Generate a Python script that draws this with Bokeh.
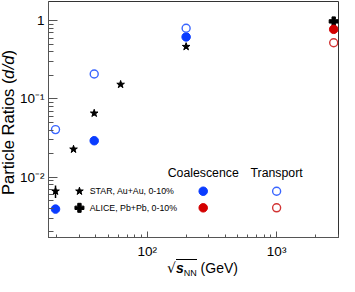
import numpy as np
from bokeh.plotting import figure
from bokeh.models import (FixedTicker, CustomJSTickFormatter, Label, Range1d, Div)
from bokeh.layouts import row, column
from bokeh.embed import file_html
from bokeh.resources import INLINE

# ---- data ----
star_x = [19.6, 27, 39, 62.4, 200]
star_y = [0.0066, 0.0227, 0.0655, 0.153, 0.466]
star_err = [0.0012, 0.0012, 0.004, 0.008, 0.02]
alice_x = [2760]
alice_y = [0.98]
alice_err = [0.04]
rhic_x = [19.6, 39, 200]
coal_rhic = [0.0039, 0.0292, 0.62]
trans_rhic = [0.0405, 0.208, 0.80]
lhc_x = [2760]
coal_lhc = [0.776]
trans_lhc = [0.522]

x_ticks = [100, 1000]
y_ticks = [0.01, 0.1, 1]

BLUE = "#0a3cff"
BLUE_OPEN = "#3a66ff"
RED = "#d40000"
RED_OPEN = "#d23434"
FONT = "Liberation Sans"

p = figure(width=323, height=261, x_axis_type="log", y_axis_type="log",
           x_range=Range1d(17.3, 3006), y_range=Range1d(0.00169, 1.76),
           output_backend="svg", toolbar_location=None,
           min_border_left=29, min_border_right=1, min_border_top=1, min_border_bottom=22)
p.grid.visible = False
p.outline_line_color = "#333333"
p.outline_line_width = 1

# ticks
x_minor = [k * 10 ** e for e in (1, 2, 3) for k in range(2, 10)]
y_minor = [k * 10.0 ** e for e in (-3, -2, -1, 0) for k in range(2, 10)]
p.xaxis.ticker = FixedTicker(ticks=x_ticks, minor_ticks=x_minor)
p.yaxis.ticker = FixedTicker(ticks=y_ticks, minor_ticks=y_minor)
fmt = CustomJSTickFormatter(code="""
const e = Math.round(Math.log10(tick));
const sup = {"-3":"\u207b\u00b3","-2":"\u207b\u00b2","-1":"\u207b\u00b9","1":"\u00b9","2":"\u00b2","3":"\u00b3"};
if (e == 0) return "1";
return "10" + sup[String(e)];
""")
p.xaxis.formatter = fmt
p.yaxis.formatter = fmt
for ax in (p.xaxis, p.yaxis):
    ax.axis_line_color = "#555555"
    ax.major_tick_line_color = "#555555"
    ax.minor_tick_line_color = "#555555"
    ax.major_tick_out = 0
    ax.minor_tick_out = 0
    ax.major_label_text_font = FONT
    ax.major_label_text_font_size = "13.5px"
    ax.major_label_text_color = "black"
p.xaxis.major_tick_in = 6
p.xaxis.minor_tick_in = 3
p.yaxis.major_tick_in = 9
p.yaxis.minor_tick_in = 5
p.xaxis.major_label_standoff = 6
p.yaxis.major_label_standoff = 4

# ---- data marks ----
lo = [y - e for y, e in zip(star_y, star_err)]
hi = [y + e for y, e in zip(star_y, star_err)]
p.segment(x0=star_x, y0=lo, x1=star_x, y1=hi, line_color="black", line_width=1.5)
p.scatter(star_x, star_y, marker="star", size=8, fill_color="black", line_color="black")

alo = [y - e for y, e in zip(alice_y, alice_err)]
ahi = [y + e for y, e in zip(alice_y, alice_err)]
p.segment(x0=alice_x, y0=alo, x1=alice_x, y1=ahi, line_color="black", line_width=1.5)
p.scatter(alice_x, alice_y, marker="plus", size=9, fill_color="black", line_color="black")

p.scatter(rhic_x, coal_rhic, marker="circle", size=8.5, fill_color=BLUE, line_color=BLUE)
p.scatter(rhic_x, trans_rhic, marker="circle", size=8, fill_color=None, line_color=BLUE_OPEN, line_width=1.4)
p.scatter(lhc_x, coal_lhc, marker="circle", size=8.5, fill_color=RED, line_color=RED)
p.scatter(lhc_x, trans_lhc, marker="circle", size=8, fill_color=None, line_color=RED_OPEN, line_width=1.4)

# ---- legend (custom grid) ----
leg_mx = 30
leg_tx = 36
col_c = 271
col_t = 1000
row1 = 0.0066
row2 = 0.00405
head = 0.0112
p.scatter([leg_mx], [row1], marker="star", size=8, fill_color="black", line_color="black")
p.scatter([leg_mx], [row2], marker="plus", size=9, fill_color="black", line_color="black")
p.scatter([col_c], [row1], marker="circle", size=8.5, fill_color=BLUE, line_color=BLUE)
p.scatter([col_c], [row2], marker="circle", size=8.5, fill_color=RED, line_color=RED)
p.scatter([col_t], [row1], marker="circle", size=8, fill_color=None, line_color=BLUE_OPEN, line_width=1.4)
p.scatter([col_t], [row2], marker="circle", size=8, fill_color=None, line_color=RED_OPEN, line_width=1.4)
for txt, yy in (("STAR, Au+Au, 0-10%", row1), ("ALICE, Pb+Pb, 0-10%", row2)):
    p.add_layout(Label(x=leg_tx, y=yy, text=txt, text_font=FONT, text_font_size="8.8px",
                       text_baseline="middle", text_align="left", text_color="black"))
for txt, xx in (("Coalescence", col_c), ("Transport", col_t)):
    p.add_layout(Label(x=xx, y=head, text=txt, text_font=FONT, text_font_size="12.3px",
                       text_baseline="middle", text_align="center", text_color="black"))

# ---- axis titles as real HTML text (mixed italic / subscript) ----
ylab = Div(
    text=('Particle Ratios (<i><span style="border-right: 1.2px solid black;">d</span>/d</i>)'),
    width=16, height=246, margin=0,
    styles={"writing-mode": "vertical-rl", "transform": "rotate(180deg)",
            "text-orientation": "mixed", "font-family": "'Liberation Sans'",
            "font-size": "16.5px", "line-height": "17px", "text-align": "center",
            "white-space": "nowrap", "color": "black"})

xlab = Div(
    text=('<span style="font-family:\'DejaVu Sans\'; font-size:14px;">\u221a</span>'
          '<span style="border-top:1px solid black;"><b><i>s</i></b>'
          '<span style="font-size:9px; position:relative; top:3px;">NN</span></span>'
          ' (GeV)'),
    width=335, height=15, margin=0,
    styles={"font-family": "'Liberation Sans'", "font-size": "14px", "line-height": "15px",
            "padding-left": "167px", "white-space": "nowrap", "color": "black",
            "box-sizing": "border-box"})

layout = column(row(ylab, p, spacing=0), xlab, spacing=0)

open("out.html", "w").write(file_html(layout, INLINE))
